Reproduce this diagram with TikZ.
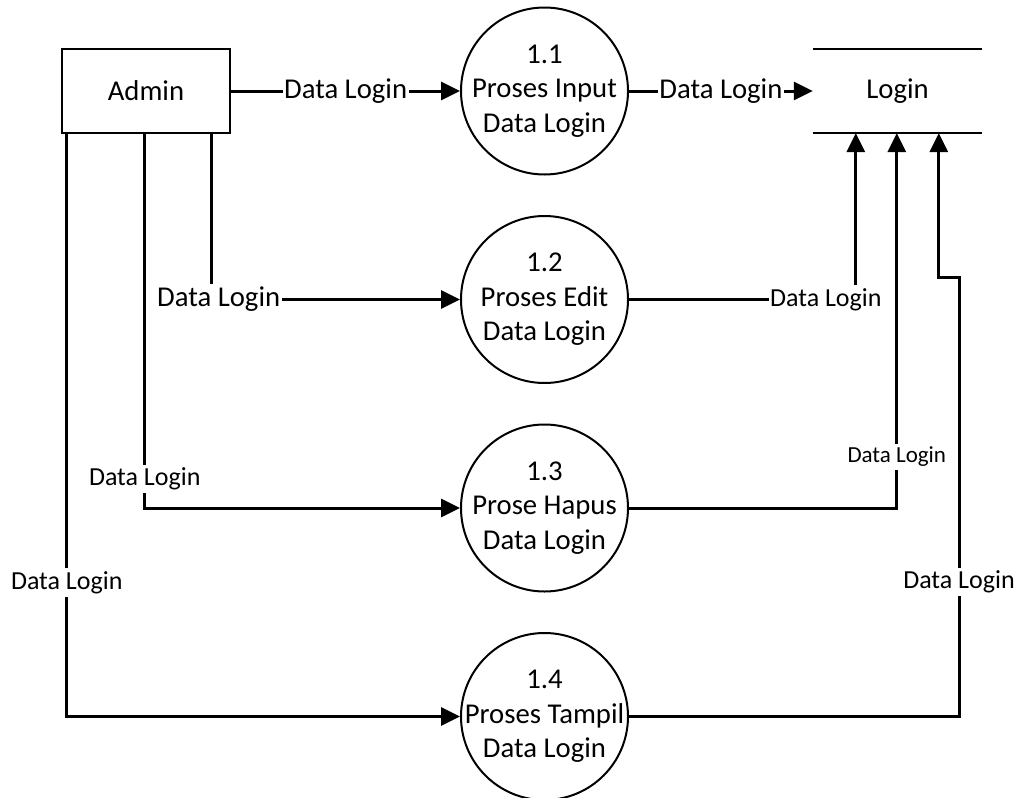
\documentclass[tikz,border=0pt]{standalone}
\usepackage{fontspec}
\setmainfont{Carlito}
\usetikzlibrary{arrows.meta}
\begin{document}
\begin{tikzpicture}[x=1pt,y=-1pt,
  base/.style={font=\fontsize{28.7}{34.5}\selectfont},
  entity/.style={draw,line width=2.5pt,minimum width=168pt,minimum height=84pt,inner sep=0pt,base},
  proc/.style={draw,circle,line width=2pt,minimum size=167pt,inner sep=-30pt,align=center,base},
  storebox/.style={minimum width=169pt,minimum height=84pt,inner sep=0pt,base},
  flow/.style={line width=3pt,-{Triangle[length=19pt,width=18pt]}},
  lbl/.style={fill=white,inner xsep=1.5pt,inner ysep=3pt},
  lblL/.style={lbl,base},
  lblM/.style={lbl,font=\fontsize{26}{30}\selectfont},
  lblS/.style={lbl,font=\fontsize{23}{27}\selectfont},
]
\useasboundingbox (0,0) rectangle (1023,798);

% external entity, processes and data store
\node[entity] (admin) at (146,91) {Admin};
\node[proc] (p1) at (544.5,91)    {1.1\\Proses Input\\Data Login};
\node[proc] (p2) at (544.5,299.5) {1.2\\Proses Edit\\Data Login};
\node[proc] (p3) at (544.5,508)   {1.3\\Prose Hapus\\Data Login};
\node[proc] (p4) at (544.5,716.5) {1.4\\Proses Tampil\\Data Login};
\node[storebox] (store) at (897.5,91) {Login};
\draw[line width=2pt] (store.north west) -- (store.north east);
\draw[line width=2pt] (store.south west) -- (store.south east);

% connector end points
\coordinate (a2) at ([xshift=151pt]admin.south west);
\coordinate (a3) at ([xshift=84pt]admin.south west);
\coordinate (a4) at ([xshift=6pt]admin.south west);
\coordinate (s2) at ([xshift=43pt]store.south west);
\coordinate (s3) at ([xshift=84pt]store.south west);
\coordinate (s4) at ([xshift=126pt]store.south west);
\coordinate (k4) at (959,277);

% input flow
\draw[flow] (admin.east) -- node[lblL,pos=0.5] {Data Login} (p1.west);
\draw[flow] (p1.east) -- node[lblL,pos=0.5] {Data Login} (store.west);

% flows from Admin
\draw[flow] (a2) |- node[lblL,pos=0.514] {Data Login} (p2.west);
\draw[flow] (a3) |- node[lblM,pos=0.461] {Data Login} (p3.west);
\draw[flow] (a4) |- node[lblM,pos=0.385] {Data Login} (p4.west);

% flows into the store
\draw[flow] (p2.east) -| node[lblM,pos=0.434] {Data Login} (s2);
\draw[flow] (p3.east) -| node[lblS,pos=0.568] {Data Login} (s3);
\draw[flow] (p4.east) -| node[lblM,pos=0.653] {Data Login} (k4) -| (s4);
\end{tikzpicture}
\end{document}
